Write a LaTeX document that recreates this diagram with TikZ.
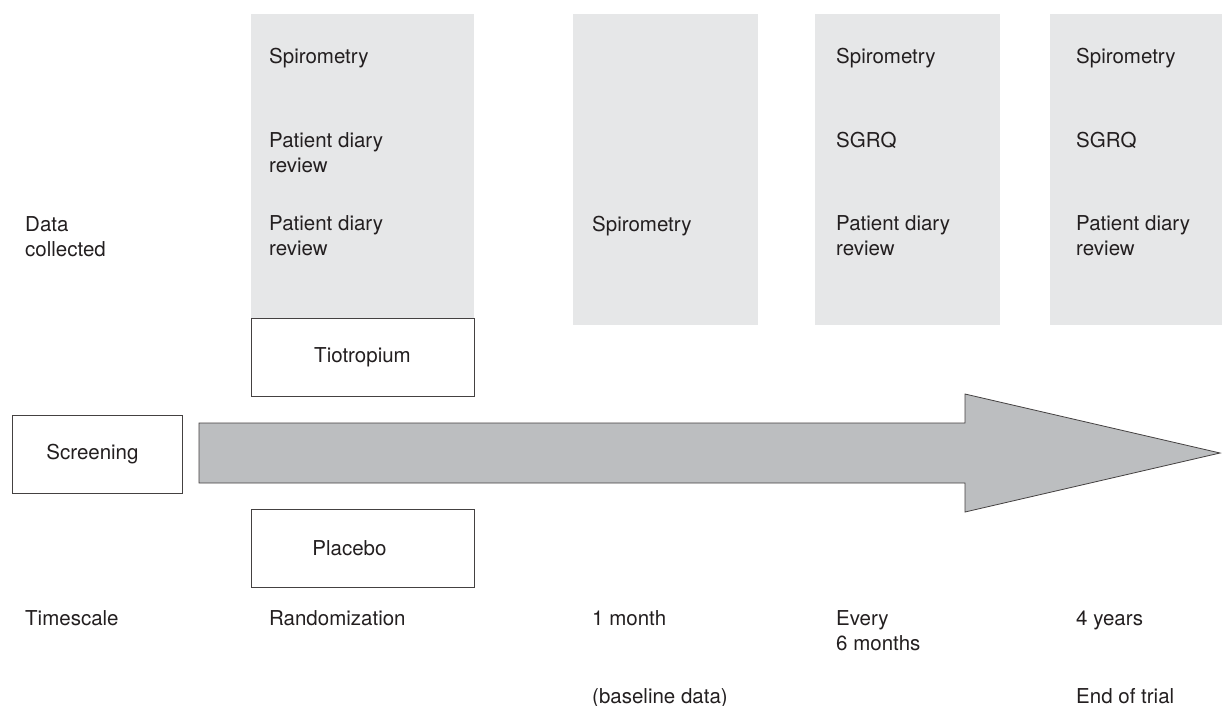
\documentclass[tikz,border=0pt]{standalone}
\usepackage{fontspec}
\setmainfont{TeX Gyre Heros}
\definecolor{panelgray}{HTML}{E6E7E8}
\definecolor{arrowgray}{HTML}{BCBEC0}
\definecolor{inkc}{HTML}{231F20}
\begin{document}
\begin{tikzpicture}[x=1pt,y=-1pt,
  lbl/.style={anchor=base west, inner sep=0pt, text=inkc, align=left,
    font=\fontsize{20.5}{24.5}\selectfont},
  panel/.style={fill=panelgray, draw=none},
  boxn/.style={draw=inkc!85, line width=0.8pt, fill=white, inner sep=0pt,
    text=inkc, font=\fontsize{20.5}{24.5}\selectfont}]
\useasboundingbox (0,0) rectangle (1222,705);
\fill[white] (0,0) rectangle (1222,705);
% grey panels
\path[panel] (251,14) rectangle (474,318);
\path[panel] (573,14) rectangle (758,325);
\path[panel] (815,14) rectangle (1000,325);
\path[panel] (1050,14) rectangle (1222,325);
% big arrow
\draw[fill=arrowgray, draw=inkc!85, line width=0.8pt, line join=miter]
  (199,423) -- (965,423) -- (965,394) -- (1220,453) -- (965,512) -- (965,483) -- (199,483) -- cycle;
% boxes
\node[boxn, minimum width=223pt, minimum height=78pt] (tio) at (362.5,357) {Tiotropium};
\node[boxn, minimum width=223pt, minimum height=78pt] (pla) at (362.5,548) {\hspace*{-26pt}Placebo};
\node[boxn, minimum width=170pt, minimum height=78pt] (scr) at (97,454) {\hspace*{-9pt}Screening};
% row labels (multi-line nodes: position = baseline of last line)
\node[lbl] (dc) at (25,256) {Data\\collected};
\node[lbl] (ts) at (25,625) {Timescale};
% panel 1
\node[lbl] (p1a) at (269,63) {Spirometry};
\node[lbl] (p1b) at (269,172) {Patient diary\\review};
\node[lbl] (p1c) at (269,255) {Patient diary\\review};
% panel 2
\node[lbl] (p2a) at (592,231) {Spirometry};
% panel 3
\node[lbl] (p3a) at (836,63) {Spirometry};
\node[lbl] (p3b) at (836,147) {SGRQ};
\node[lbl] (p3c) at (836,255) {Patient diary\\review};
% panel 4
\node[lbl] (p4a) at (1076,63) {Spirometry};
\node[lbl] (p4b) at (1076,147) {SGRQ};
\node[lbl] (p4c) at (1076,255) {Patient diary\\review};
% timescale
\node[lbl] (t1) at (269,625) {Randomization};
\node[lbl] (t2) at (592,625) {1 month};
\node[lbl] (t3) at (836,650) {Every\\6 months};
\node[lbl] (t4) at (1076,625) {4 years};
\node[lbl] (t5) at (592,703) {(baseline data)};
\node[lbl] (t6) at (1076,703) {End of trial};
\end{tikzpicture}
\end{document}
